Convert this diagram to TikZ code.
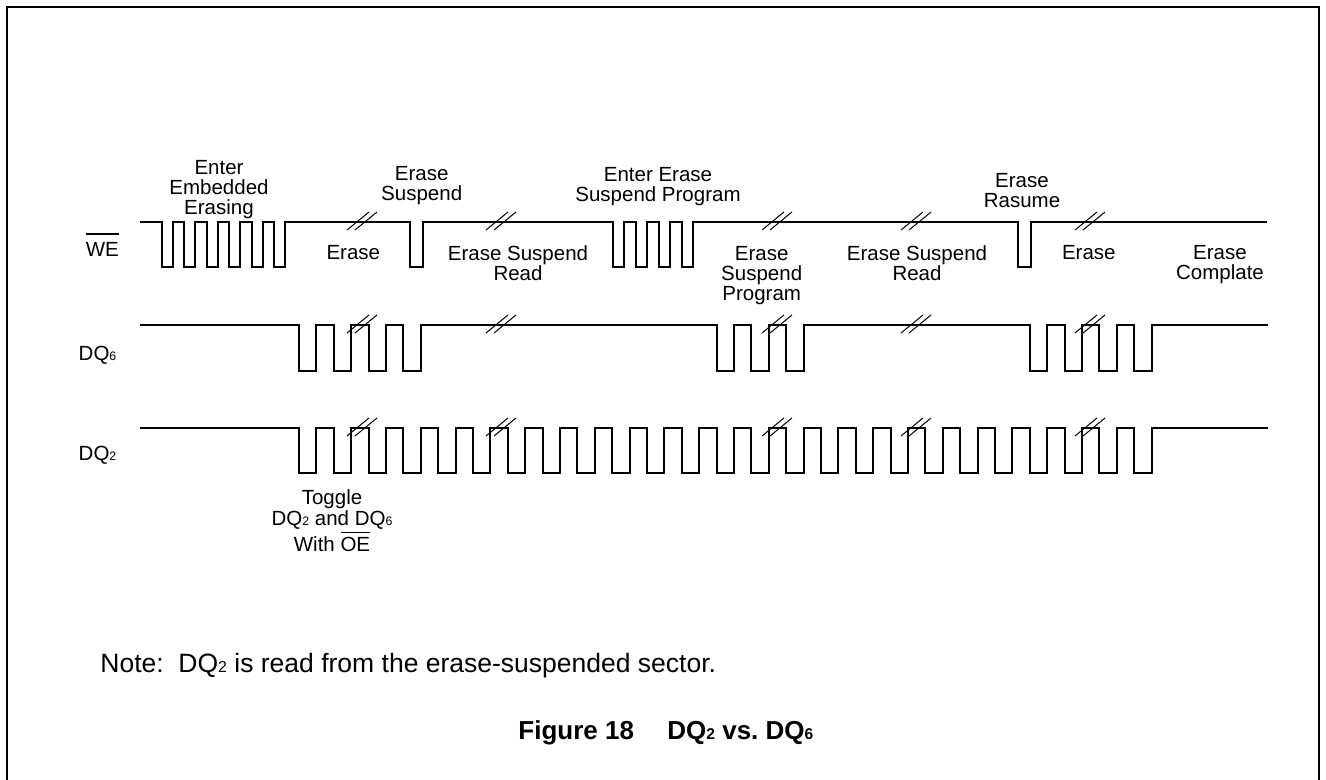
\documentclass[tikz,border=0pt]{standalone}
\usepackage{fontspec}
\setmainfont{Liberation Sans}
\usetikzlibrary{positioning}
\tikzset{
  boxline/.style = {line width=1pt},
  wave/.style    = {line width=1pt, line join=miter},
  brk/.style     = {line width=0.5pt},
  txt/.style     = {font=\fontsize{10.25}{10}\selectfont, align=center, inner sep=0pt},
  signal/.style  = {font=\fontsize{10.25}{10}\selectfont, anchor=base east, inner sep=0pt},
  body/.style    = {font=\fontsize{13.25}{15}\selectfont, anchor=base west, inner sep=0pt}
}
\newcommand{\dqn}[1]{DQ\scalebox{0.6}{#1}}
% bar over a signal name, #1 = gap
\newcommand{\barname}[2]{\leavevmode\vbox{\hrule height 0.75pt\kern#1\hbox{#2}}}

\begin{document}
\begin{tikzpicture}[x=0.5pt, y=-0.5pt]
\useasboundingbox (0,0) rectangle (1326,780);

% open frame
\draw[boxline] (7,790) -- (7,7) -- (1318.5,7) -- (1318.5,790);

% signal names
\node[signal] (we)  at (119.3,256.7) {\barname{3.8pt}{WE}};
\node[signal] (dq6) at (116.7,360) {\dqn{6}};
\node[signal] (dq2) at (116.7,460) {\dqn{2}};

% WE
\draw[wave] (140,222)
  foreach \k in {0,...,5} {-- (161.7+22.5*\k,222) -- (161.7+22.5*\k,267) -- (172.9+22.5*\k,267) -- (172.9+22.5*\k,222)}
  -- (410,222) -- (410,267) -- (422.7,267) -- (422.7,222)
  foreach \k in {0,...,3} {-- (612.7+23*\k,222) -- (612.7+23*\k,267) -- (624+23*\k,267) -- (624+23*\k,222)}
  -- (1018.3,222) -- (1018.3,267) -- (1030.7,267) -- (1030.7,222) -- (1267,222);

% DQ6 toggles only while erasing or programming
\draw[wave] (140,325)
  foreach \k in {0,1,2,3,12,13,14,21,22,23,24} {-- (299+34.8*\k,325) -- (299+34.8*\k,371) -- (316.4+34.8*\k,371) -- (316.4+34.8*\k,325)}
  -- (1268,325);

% DQ2 toggles all the way
\draw[wave] (140,428)
  foreach \k in {0,...,24} {-- (299+34.8*\k,428) -- (299+34.8*\k,473) -- (316.4+34.8*\k,473) -- (316.4+34.8*\k,428)}
  -- (1268,428);

% time breaks
\foreach \bx in {362,501,777,916,1090}
  \foreach \by in {222,325,428} {
    \draw[brk] (\bx-15,\by+8) -- (\bx+7,\by-10);
    \draw[brk] (\bx-7,\by+8) -- (\bx+15,\by-10);
  }

% phases above WE
\node[txt] (embedded)  at (219,189.9)  {Enter\\Embedded\\Erasing};
\node[txt] (suspend)   at (421.7,185.6) {Erase\\Suspend};
\node[txt] (enterprog) at (658,186.6)  {Enter Erase\\Suspend Program};
\node[txt] (resume)    at (1022,191)   {Erase\\Rasume};

% phases below WE
\node[txt, anchor=base] (erasea) at (353.3,260) {Erase};
\node[txt] (reada)    at (518,262.8)   {Erase Suspend\\Read};
\node[txt] (program)  at (761.7,275.6) {Erase\\Suspend\\Program};
\node[txt] (readb)    at (917,262.8)   {Erase Suspend\\Read};
\node[txt, anchor=base] (eraseb) at (1088.8,260) {Erase};
\node[txt] (complete) at (1220,264.9)  {Erase\\Complate};

\node[txt, font=\fontsize{10.25}{10.75}\selectfont] (toggle) at (332,520.3)
  {Toggle\\\dqn{2} and \dqn{6}\\With \barname{1.8pt}{OE}};

% note and caption
\node[body] (note) at (100,672) {Note:\ \ \dqn{2} is read from the erase-suspended sector.};
\node[body, font=\fontsize{13}{15}\selectfont\bfseries] (caption) at (518,739)
  {Figure 18\hspace{16.7pt}\dqn{2} vs.\ \dqn{6}};
\end{tikzpicture}
\end{document}
